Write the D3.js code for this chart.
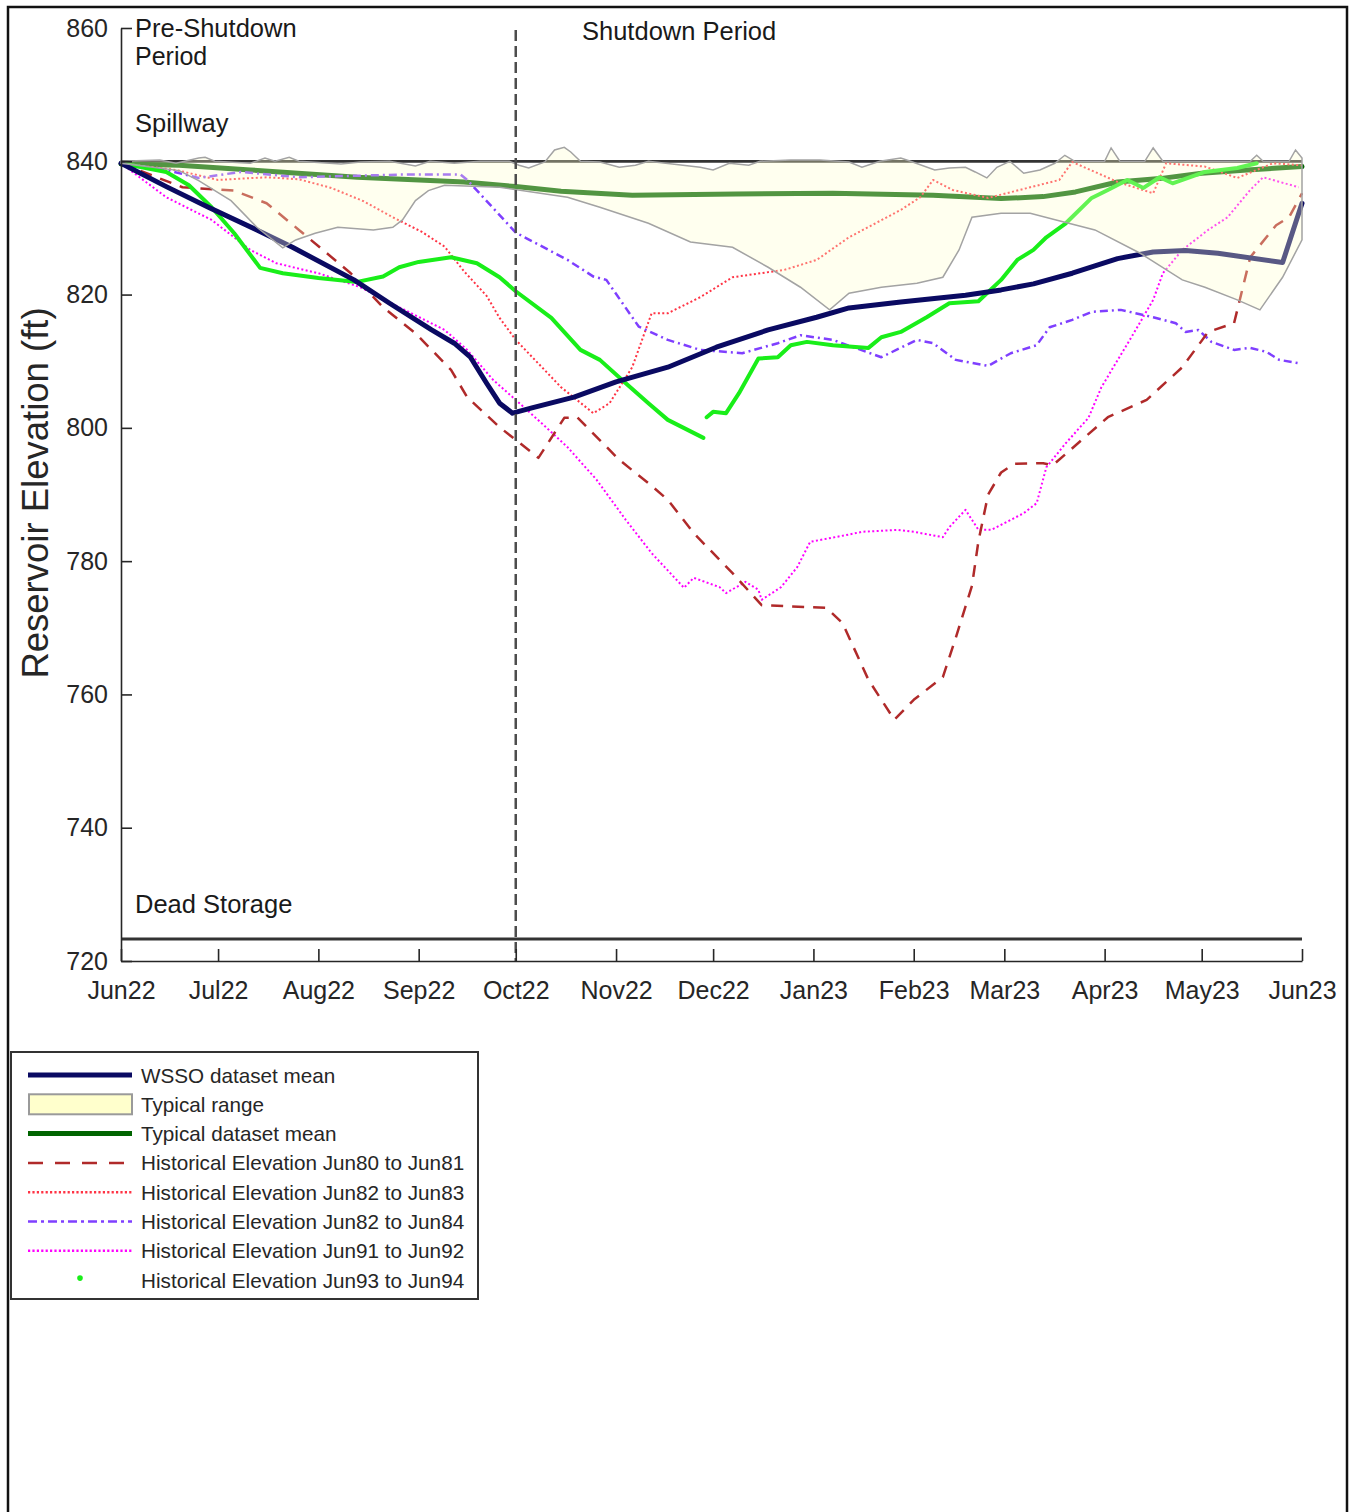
<!DOCTYPE html>
<html>
<head>
<meta charset="utf-8">
<script src="https://cdn.jsdelivr.net/npm/d3@7"></script>
<style>
  body { margin: 0; background: #fff; }
  svg { font-family: "Liberation Sans", Arial, sans-serif; }
</style>
</head>
<body>
<div id="chart"></div>
<script>
// x values are days since 1 Jun 2022, y values are reservoir elevation (ft)
var seasonStart = "2022-06-01";
var seasonEnd = "2023-06-01";
var shutdownStart = "2022-10-01";
var spillwayElev = 840;
var deadStorageElev = 723.3;
var yTicks = [720, 740, 760, 780, 800, 820, 840, 860];

var wssoMean = [[0,839.7],[14,836.2],[27,833.1],[42,829.7],[53,827.1],[72,822.2],[83,818.7],[96,814.7],[103,812.7],[108,810.6],[113,806.7],[117,803.7],[121,802.2],[127,803.0],[140,804.6],[153,806.9],[169,809.1],[184,812.1],[200,814.7],[215,816.6],[225,818.0],[241,818.9],[261,819.9],[272,820.7],[282,821.6],[294,823.2],[308,825.4],[319,826.4],[329,826.6],[339,826.2],[359,824.8],[365,833.7]];

var typicalMean = [[0,839.6],[18,839.4],[40,838.7],[73,837.6],[106,836.9],[122,836.2],[136,835.5],[158,834.9],[190,835.1],[220,835.2],[251,834.9],[272,834.4],[285,834.7],[295,835.4],[308,836.9],[321,837.4],[334,838.2],[348,838.7],[365,839.2]];

var typicalUpper = [[0,840.0],[12,840.2],[17,839.7],[24,840.5],[26,840.6],[29,840.0],[40,839.7],[44.5,840.5],[47.6,840.0],[52,840.6],[55,840.0],[68,839.6],[74,839.9],[83,840.0],[91,839.3],[95.5,840.0],[103,839.7],[111,840.0],[120,840.0],[123,839.4],[126,839.0],[131,839.9],[134,841.7],[137,842.1],[139,841.4],[142,840.0],[148,839.9],[154,839.1],[159,839.4],[163,840.0],[179,839.1],[183,838.7],[188,839.7],[194,839.4],[197.5,840.0],[207,840.2],[216,840.2],[225,839.9],[229,839.1],[234.5,840.0],[241,840.5],[244,840.0],[251.5,838.7],[256,839.0],[261,839.1],[264,838.4],[267.6,837.5],[270.7,839.1],[274.7,840.0],[279,838.2],[284,838.7],[288.6,839.7],[291.7,840.9],[294.8,840.0],[304,840.0],[306,842.0],[308.7,840.0],[316.4,840.0],[319,842.0],[322,840.0],[349,840.0],[351,840.9],[353,840.0],[361,840.0],[363,841.7],[365,840.5]];

var typicalLower = [[0,839.7],[18,838.6],[24,837.1],[34,834.1],[42,830.1],[50,827.0],[54,828.2],[60,829.2],[67,830.1],[78,829.7],[84,830.1],[87,831.2],[91,834.1],[95,835.6],[100,836.4],[117,836.1],[138,834.6],[148,833.1],[163,830.7],[176,827.9],[189,827.1],[200,824.1],[210,821.1],[219,817.7],[225,820.2],[235,821.1],[246,821.7],[254,822.6],[259,826.7],[263,831.6],[272,832.2],[281,832.2],[289,831.2],[301,829.7],[315,826.2],[328,822.2],[335,821.1],[345,819.2],[352,817.7],[359,822.6],[365,828.2]];

var hist8081 = [[0,839.7],[19,836.1],[35,835.6],[45,833.7],[55,829.7],[71,823.2],[81,818.1],[91,814.2],[102,808.7],[107,804.6],[117,800.1],[122,798.2],[129,795.5],[137,801.5],[141,801.6],[154,795.2],[163,791.7],[169,789.2],[177,784.2],[189,778.2],[198,773.4],[218,773.0],[223,770.7],[231,762.2],[239,756.2],[245,759.2],[254,762.6],[258,768.5],[263,776.3],[265,783.0],[268,790.0],[272,793.3],[276,794.6],[285,794.7],[288,794.4],[305,801.6],[317,804.2],[328,809.1],[336,814.4],[344,815.7],[349,825.6],[357,830.4],[361,831.6],[365,835.2]];

var hist8283 = [[0,839.7],[17,838.7],[30,837.2],[45,837.6],[55,837.3],[65,836.0],[75,834.0],[84,831.6],[93,829.4],[100,827.2],[106,823.5],[113,819.8],[117,816.5],[122,813.2],[136,806.1],[146,802.2],[151,803.7],[158,809.1],[164,817.2],[169,817.2],[179,819.6],[189,822.6],[205,823.7],[215,825.2],[225,828.6],[241,832.7],[247,834.6],[251,837.2],[257,835.7],[268,834.5],[281,836.1],[290,837.2],[294,839.9],[308,836.9],[319,835.2],[323,839.7],[335,839.2],[345,837.5],[356,839.7],[365,839.4]];

var hist8284 = [[0,839.7],[14,838.7],[24,837.5],[37,838.4],[55,837.6],[86,838.0],[105,838.0],[107,837.2],[122,829.3],[138,825.2],[146,822.7],[150,822.2],[160,815.2],[169,813.2],[179,811.7],[192,811.2],[203,812.7],[210,813.9],[220,813.2],[235,810.6],[246,813.2],[251,812.7],[258,810.2],[268,809.3],[275,811.2],[283,812.4],[287,815.1],[294,816.2],[300,817.4],[309,817.7],[319,816.6],[326,815.7],[329,814.4],[333,814.7],[337,812.9],[344,811.7],[349,812.0],[354,811.4],[358,810.2],[364,809.7]];

var hist9192 = [[0,839.7],[14,834.6],[28,831.2],[40,826.7],[48,824.7],[61,823.2],[74,821.1],[86,818.1],[100,814.7],[107,811.7],[115,807.2],[122,804.2],[130,800.7],[138,797.1],[147,792.2],[156,786.2],[164,781.2],[174,776.0],[177,777.5],[185,776.1],[187,775.2],[193,776.9],[197,775.7],[198,774.2],[204,776.1],[209,779.1],[213,782.9],[224,783.9],[229,784.4],[240,784.7],[245,784.4],[254,783.6],[256,785.1],[261,787.7],[265,784.7],[269,784.7],[279,787.2],[283,788.7],[286,794.1],[292,797.7],[299,801.5],[303,806.1],[313,814.2],[319,819.2],[322,823.2],[328,826.7],[336,829.7],[342,831.6],[349,835.7],[353,837.6],[364,836.1]];

var hist9394a = [[0,839.7],[14,838.4],[21,836.4],[28,833.1],[35,829.2],[43,824.0],[50,823.2],[61,822.5],[73,821.9],[81,822.7],[86,824.1],[92,824.9],[102,825.6],[110,824.7],[117,822.6],[122,820.5],[133,816.5],[142,811.7],[148,810.2],[156,806.7],[163,803.7],[169,801.2],[180,798.5]];
var hist9394b = [[181,801.6],[183,802.4],[187,802.2],[191,805.2],[197,810.4],[203,810.6],[207,812.4],[212,812.9],[220,812.4],[231,812.0],[235,813.6],[241,814.4],[249,816.6],[256,818.7],[265,819.0],[272,822.2],[277,825.2],[282,826.7],[286,828.6],[292,830.7],[300,834.5],[305,835.7],[311,837.2],[316,836.0],[321,837.6],[325,836.7],[335,838.4],[345,839.0],[351,839.7]];

var legendLabels = ["WSSO dataset mean", "Typical range", "Typical dataset mean",
  "Historical Elevation Jun80 to Jun81", "Historical Elevation Jun82 to Jun83",
  "Historical Elevation Jun82 to Jun84", "Historical Elevation Jun91 to Jun92",
  "Historical Elevation Jun93 to Jun94"];

var width = 1355, height = 1512;
var plotMargins = { top: 28, left: 121, right: 53, bottom: 551 };
var plotWidth = width - plotMargins.left - plotMargins.right;   // 1181
var plotHeight = height - plotMargins.top - plotMargins.bottom; // 933

var svg = d3.select("#chart").append("svg").attr("width", width).attr("height", height);

// outer frame
svg.append("rect").attr("x", 8).attr("y", 7).attr("width", 1339).attr("height", 1520)
  .attr("fill", "none").attr("stroke", "#111").attr("stroke-width", 2.5);

var plot = svg.append("g").attr("transform", "translate(" + plotMargins.left + "," + plotMargins.top + ")");

var t0 = d3.utcParse("%Y-%m-%d")(seasonStart);
var t1 = d3.utcParse("%Y-%m-%d")(seasonEnd);
var toDate = function (d) { return new Date(t0.getTime() + d * 864e5); };

var x = d3.scaleUtc().domain([t0, t1]).range([0, plotWidth]);
var y = d3.scaleLinear().domain([720, 860]).range([plotHeight, 0]);

var line = d3.line().x(function (d) { return x(toDate(d[0])); }).y(function (d) { return y(d[1]); });

// spillway + dead storage reference lines
[spillwayElev, deadStorageElev].forEach(function (v) {
  plot.append("line").attr("x1", 0).attr("x2", plotWidth).attr("y1", y(v)).attr("y2", y(v))
    .attr("stroke", "#333").attr("stroke-width", 2.8);
});

var series = [
  { data: typicalMean, color: "#006400", w: 5, dash: null },
  { data: hist9192, color: "#ff00ff", w: 2, dash: "2,2.4" },
  { data: hist8283, color: "#ff3344", w: 2, dash: "2,2.4" },
  { data: hist8284, color: "#7f3fff", w: 2.5, dash: "8,4,2,4" },
  { data: hist8081, color: "#b02a2a", w: 2.5, dash: "12,9" },
  { data: hist9394a, color: "#19ee19", w: 4, dash: null },
  { data: hist9394b, color: "#19ee19", w: 4, dash: null },
  { data: wssoMean, color: "#0a0a62", w: 5, dash: null }
];
series.forEach(function (s) {
  plot.append("path").datum(s.data).attr("d", line)
    .attr("fill", "none").attr("stroke", s.color).attr("stroke-width", s.w)
    .attr("stroke-dasharray", s.dash).attr("stroke-linejoin", "round").attr("stroke-linecap", s.dash ? "butt" : "round");
});

// typical range: upper forward, lower backward
var band = typicalUpper.concat(typicalLower.slice().reverse());
var bandPath = line(band) + "Z";
plot.append("path").attr("d", bandPath).attr("fill", "#ffffcc").attr("fill-opacity", 0.32).attr("stroke", "none");
plot.append("path").attr("d", bandPath).attr("fill", "none").attr("stroke", "#a3a3a3").attr("stroke-width", 1.5);

// shutdown divider
var xs = x(d3.utcParse("%Y-%m-%d")(shutdownStart));
plot.append("line").attr("x1", xs).attr("x2", xs).attr("y1", 2).attr("y2", plotHeight)
  .attr("stroke", "#4d4d4d").attr("stroke-width", 2.5).attr("stroke-dasharray", "11,5");

// axes
var xAxis = d3.axisBottom(x)
  .tickValues(d3.utcMonth.range(t0, d3.utcDay.offset(t1, 1)))
  .tickFormat(d3.utcFormat("%b%y")).tickSizeInner(-12).tickSizeOuter(0).tickPadding(20);
var yAxis = d3.axisLeft(y).tickValues(yTicks).tickSizeInner(-11).tickSizeOuter(0).tickPadding(13);

var gx = plot.append("g").attr("transform", "translate(0," + plotHeight + ")").call(xAxis);
var gy = plot.append("g").call(yAxis);
[gx, gy].forEach(function (g) {
  g.selectAll("path, line").attr("stroke", "#262626").attr("stroke-width", 1.6);
  g.selectAll("text").attr("fill", "#262626").style("font-size", "25px")
    .style("font-family", "'Liberation Sans', Arial, sans-serif");
});

// annotations
var ann = plot.append("g").attr("fill", "#1a1a1a").style("font-size", "25.5px");
ann.append("text").attr("x", 14).attr("y", 9).text("Pre-Shutdown");
ann.append("text").attr("x", 14).attr("y", 37).style("font-size", "25px").text("Period");
ann.append("text").attr("x", 461).attr("y", 12).text("Shutdown Period");
ann.append("text").attr("x", 14).attr("y", 104).text("Spillway");
ann.append("text").attr("x", 14).attr("y", 885).text("Dead Storage");

svg.append("text").attr("transform", "translate(48,493) rotate(-90)")
  .attr("text-anchor", "middle").attr("fill", "#262626").style("font-size", "36.5px")
  .text("Reservoir Elevation (ft)");

// legend
var legend = svg.append("g").attr("transform", "translate(11,1052)");
legend.append("rect").attr("width", 467).attr("height", 247).attr("fill", "#fff")
  .attr("stroke", "#333").attr("stroke-width", 2);
var rowY = function (i) { return 23 + i * 29.3; };
var sw = [
  { kind: "line", color: "#0a0a62", w: 5, dash: null },
  { kind: "rect" },
  { kind: "line", color: "#006400", w: 5, dash: null },
  { kind: "line", color: "#b02a2a", w: 2.5, dash: "15,12" },
  { kind: "line", color: "#ff3344", w: 2.5, dash: "2.2,2.2" },
  { kind: "line", color: "#7f3fff", w: 2.5, dash: "9,4,3,4" },
  { kind: "line", color: "#ff00ff", w: 2.5, dash: "2.2,2.2" },
  { kind: "dot", color: "#19ee19" }
];
legendLabels.forEach(function (lab, i) {
  var g = legend.append("g").attr("transform", "translate(0," + rowY(i) + ")");
  var s = sw[i];
  if (s.kind === "line") {
    g.append("line").attr("x1", 17).attr("x2", 121).attr("stroke", s.color)
      .attr("stroke-width", s.w).attr("stroke-dasharray", s.dash);
  } else if (s.kind === "rect") {
    g.append("rect").attr("x", 18).attr("y", -10).attr("width", 103).attr("height", 20)
      .attr("fill", "#ffffcc").attr("stroke", "#9a9a9a").attr("stroke-width", 2);
  } else {
    g.append("circle").attr("cx", 69).attr("cy", -2).attr("r", 2.8).attr("fill", s.color);
  }
  g.append("text").attr("x", 130).attr("y", 7.5).attr("fill", "#262626")
    .style("font-size", "20.7px").text(lab);
});
</script>
</body>
</html>
